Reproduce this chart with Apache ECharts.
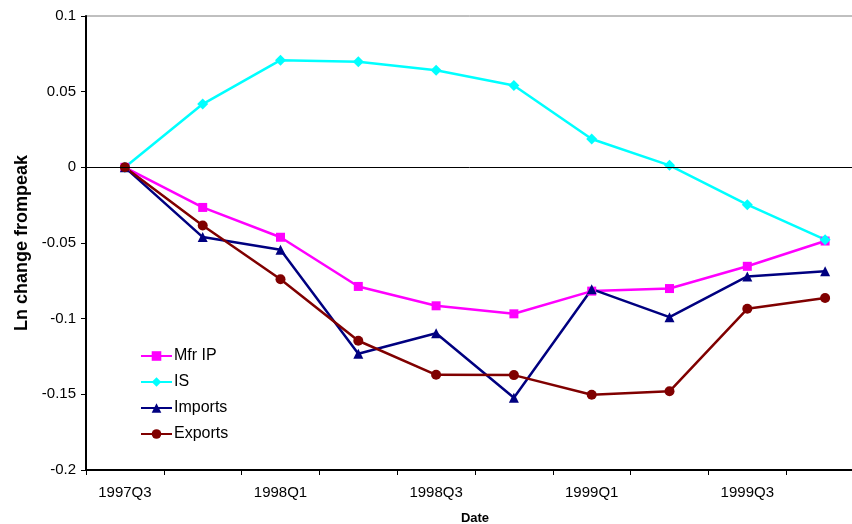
<!DOCTYPE html>
<html>
<head>
<meta charset="utf-8">
<script src="https://cdn.jsdelivr.net/npm/echarts@6/dist/echarts.min.js"></script>
<style>
html,body{margin:0;padding:0;background:#fff;}
#chart{width:852px;height:524px;}
</style>
</head>
<body>
<div id="chart"></div>
<script>
const categories = ['1997Q3','1997Q4','1998Q1','1998Q2','1998Q3','1998Q4','1999Q1','1999Q2','1999Q3','1999Q4'];
const mfrIP   = [0, -0.0265, -0.0462, -0.0787, -0.0915, -0.0968, -0.0818, -0.0801, -0.0654, -0.0487];
const isVals  = [0, 0.0418, 0.0708, 0.0698, 0.0642, 0.0541, 0.0187, 0.0013, -0.0247, -0.0478];
const imports = [0, -0.0461, -0.0545, -0.1232, -0.1096, -0.1523, -0.0805, -0.0990, -0.0721, -0.0686];
const exports = [0, -0.0384, -0.0739, -0.1146, -0.1371, -0.1373, -0.1503, -0.1480, -0.0935, -0.0864];
const yTicks = { min: -0.2, max: 0.1, interval: 0.05 };

const FONT = "'Liberation Sans', Arial, sans-serif";
const chart = echarts.init(document.getElementById('chart'), null, { renderer: 'canvas' });

function mkSeries(name, data, color, symbol, size) {
  return {
    name: name, type: 'line', data: data,
    symbol: symbol, symbolSize: size,
    lineStyle: { color: color, width: 2.5 },
    itemStyle: { color: color },
    emphasis: { disabled: true },
    animation: false
  };
}

const s1 = mkSeries('Mfr IP', mfrIP, '#FF00FF', 'rect', 9);
s1.markLine = {
  silent: true, symbol: 'none', label: { show: false },
  lineStyle: { color: '#000', width: 1, type: 'solid' },
  data: [{ yAxis: 0 }], animation: false
};

chart.setOption({
  animation: false,
  backgroundColor: '#fff',
  textStyle: { fontFamily: FONT },
  grid: {
    left: 86, top: 16, width: 778, height: 454,
    outerBoundsMode: 'none', containLabel: false,
    show: true, borderColor: '#808080', borderWidth: 1, backgroundColor: 'transparent'
  },
  legend: {
    orient: 'vertical', left: 140, top: 348, padding: 0,
    itemWidth: 31, itemHeight: 12, itemGap: 10,
    textStyle: { fontSize: 16, color: '#000', fontFamily: FONT, padding: [0,0,0,-3] },
    data: ['Mfr IP', 'IS', 'Imports', 'Exports']
  },
  xAxis: {
    type: 'category', data: categories, boundaryGap: true,
    name: 'Date', nameLocation: 'middle', nameGap: 42,
    nameTextStyle: { fontSize: 13, fontWeight: 'bold', color: '#000', fontFamily: FONT },
    axisLine: { onZero: false, lineStyle: { color: '#000', width: 2 } },
    axisTick: { show: true, interval: 0, length: 5, lineStyle: { color: '#000', width: 1 } },
    axisLabel: { interval: 1, margin: 15, fontSize: 15, color: '#000', fontFamily: FONT },
    splitLine: { show: false }
  },
  yAxis: {
    type: 'value', min: yTicks.min, max: yTicks.max, interval: yTicks.interval,
    name: 'Ln change frompeak', nameLocation: 'middle', nameGap: 52, nameRotate: 90,
    nameTextStyle: { fontSize: 18, fontWeight: 'bold', color: '#000', fontFamily: FONT },
    axisLine: { show: true, lineStyle: { color: '#000', width: 2 } },
    axisTick: { show: true, length: 5, lineStyle: { color: '#000', width: 1 } },
    axisLabel: { margin: 10, fontSize: 15, color: '#000', fontFamily: FONT },
    splitLine: { show: false }
  },
  series: [
    s1,
    mkSeries('IS', isVals, '#00FFFF', 'diamond', 11),
    mkSeries('Imports', imports, '#000080', 'triangle', 10),
    mkSeries('Exports', exports, '#800000', 'circle', 10)
  ]
});
</script>
</body>
</html>
